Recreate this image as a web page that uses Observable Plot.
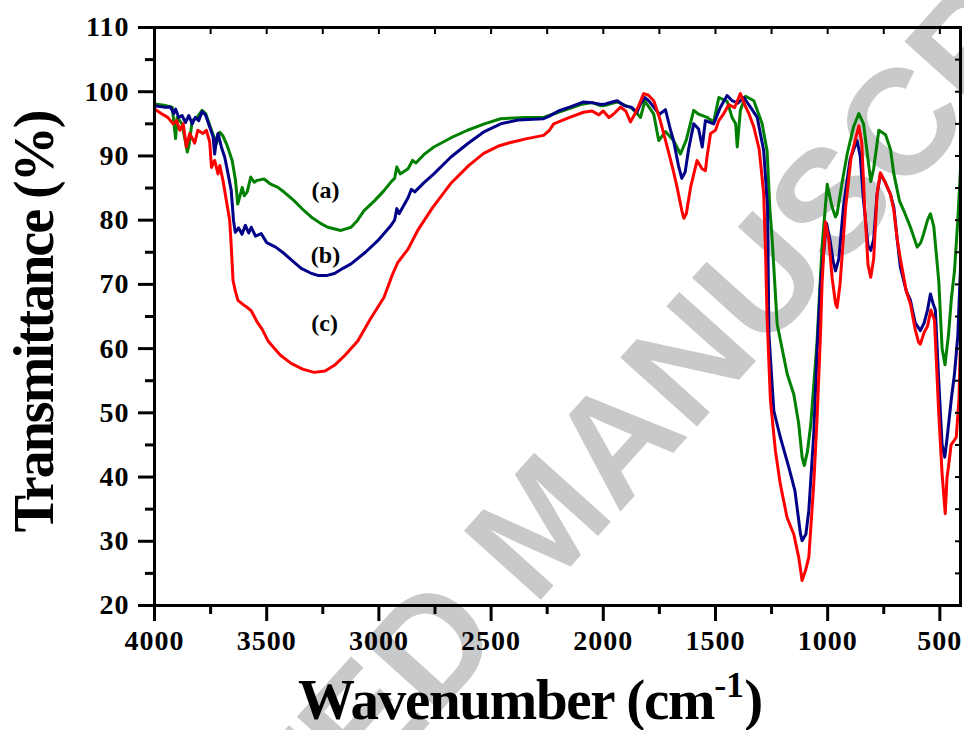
<!DOCTYPE html>
<html>
<head>
<meta charset="utf-8">
<script src="https://cdn.jsdelivr.net/npm/d3@7"></script>
<script src="https://cdn.jsdelivr.net/npm/@observablehq/plot@0.6"></script>
<style>
  body { margin: 0; background: #fff; }
  #wrap { position: relative; width: 964px; height: 730px; overflow: hidden; background: #fff; }
  #wm { position: absolute; left: 540px; top: 523px; transform: translate(-50%, -50%) rotate(-48deg);
        font: bold 150px "Liberation Sans", Arial, sans-serif; color: #c8c9cb; white-space: nowrap; line-height: 1; }
  #plot { position: absolute; left: 0; top: 0; }
  .serif { font-family: "Liberation Serif", "Times New Roman", serif; font-weight: bold; color: #000; }
  #xt { position: absolute; left: 298px; top: 672px; height: 56px; font-size: 57px; line-height: 56px; white-space: nowrap; letter-spacing: -1.3px; }
  #xt .sup { font-size: 36px; line-height: 0; vertical-align: 22px; letter-spacing: 0; }
  #yt { position: absolute; left: 34px; top: 322px; transform: translate(-50%, -50%) rotate(-90deg);
        font-size: 56px; line-height: 56px; white-space: nowrap; letter-spacing: -2px; }
  #plot g[aria-label$="tick label"] text { letter-spacing: 1px; }
</style>
</head>
<body>
<div id="wrap">
  <div id="wm">ACCEPTED MANUSCRIPT</div>
  <div id="plot"></div>
  <div id="yt" class="serif">Transmittance (%)</div>
  <div id="xt" class="serif">Wavenumber (cm<span class="sup">-1</span>)</div>
</div>
<script>
// Tick values
const xMajor = [4000, 3500, 3000, 2500, 2000, 1500, 1000, 500];
const xMinor = [3750, 3250, 2750, 2250, 1750, 1250, 750];
const yMajor = [20, 30, 40, 50, 60, 70, 80, 90, 100, 110];
const yMinor = [25, 35, 45, 55, 65, 75, 85, 95, 105];

// Curve labels
const labelNames = ["(a)", "(b)", "(c)"];
const labelWave = [3238, 3238, 3242];
const labelTrans = [84.6, 74.6, 63.9];

// Series colours
const colorA = "#008000";
const colorB = "#000088";
const colorC = "#ff0000";

// Spectrum (a): [wavenumber, transmittance]
const spectrumA = [
  [4000,98.1],[3958,97.9],[3921,97.6],[3906,92.7],[3899,96.0],[3877,95.0],[3854,90.6],[3846,91.7],
  [3832,95.5],[3810,96.0],[3788,97.1],[3772,96.6],[3746,94.0],[3724,91.9],[3709,93.7],[3696,93.2],
  [3676,91.6],[3654,89.3],[3639,86.2],[3629,82.5],[3609,85.1],[3600,83.8],[3587,84.4],[3571,86.7],
  [3555,85.9],[3542,86.2],[3512,86.4],[3482,85.6],[3450,85.1],[3420,84.3],[3377,83.0],[3340,81.7],
  [3302,80.5],[3260,79.5],[3228,78.9],[3169,78.4],[3124,78.9],[3095,80.0],[3066,81.5],[3020,83.0],
  [2977,84.6],[2945,86.0],[2930,86.5],[2920,88.3],[2905,87.2],[2870,88.0],[2850,89.3],[2835,88.9],
  [2800,90.2],[2755,91.4],[2680,92.8],[2605,94.0],[2530,95.0],[2457,95.8],[2350,96.0],[2266,96.0],
  [2200,96.8],[2100,98.0],[2050,98.3],[2010,97.8],[1990,97.9],[1960,98.2],[1938,98.4],[1905,97.9],
  [1875,97.5],[1850,96.6],[1834,96.0],[1815,98.5],[1800,97.8],[1775,96.5],[1753,92.4],[1723,93.8],
  [1687,92.4],[1656,90.3],[1630,92.5],[1597,97.1],[1575,96.5],[1537,96.0],[1508,95.3],[1485,99.1],
  [1448,98.5],[1426,96.0],[1410,95.0],[1403,91.4],[1389,97.1],[1366,99.3],[1329,98.6],[1292,95.0],
  [1270,90.8],[1258,82.0],[1247,76.8],[1225,63.8],[1180,56.0],[1151,52.9],[1129,48.3],[1114,43.1],
  [1104,41.8],[1090,44.0],[1075,48.3],[1047,61.3],[1025,75.8],[1002,85.6],[980,82.0],[965,80.5],
  [958,81.0],[935,86.0],[913,90.3],[885,94.5],[861,96.6],[840,95.0],[822,90.0],[808,86.0],[795,88.0],
  [772,94.0],[742,93.3],[720,91.0],[705,87.2],[680,83.0],[661,81.5],[631,78.9],[601,75.8],[585,76.5],
  [572,77.9],[555,80.0],[542,81.0],[527,79.0],[505,70.6],[490,60.0],[477,57.5],[462,62.0],[448,68.0],
  [435,72.0],[420,80.0],[408,88.0]
];

// Spectrum (b)
const spectrumB = [
  [4000,97.8],[3958,97.6],[3929,97.6],[3914,96.6],[3906,97.3],[3892,96.0],[3877,96.3],[3862,95.2],
  [3847,96.3],[3832,95.0],[3818,96.0],[3803,95.5],[3788,96.9],[3773,96.4],[3754,94.5],[3739,93.0],
  [3732,90.3],[3724,92.5],[3717,93.5],[3702,91.4],[3687,89.8],[3672,87.2],[3658,84.6],[3648,80.0],
  [3640,78.1],[3625,78.8],[3610,77.8],[3595,79.2],[3580,78.0],[3569,78.9],[3550,77.5],[3524,77.9],
  [3500,76.5],[3460,75.8],[3422,74.8],[3380,73.5],[3346,72.5],[3300,71.7],[3272,71.4],[3230,71.4],
  [3198,71.7],[3160,72.5],[3124,73.2],[3060,75.0],[3005,76.8],[2950,79.0],[2930,80.0],[2920,81.8],
  [2910,81.0],[2870,83.5],[2855,84.8],[2840,84.4],[2800,85.8],[2755,87.2],[2680,89.8],[2605,91.9],
  [2530,93.8],[2457,95.0],[2380,95.6],[2266,95.8],[2240,96.2],[2200,97.0],[2150,97.6],[2088,98.4],
  [2050,98.3],[2010,98.0],[1990,98.1],[1960,98.4],[1938,98.6],[1905,97.8],[1875,97.6],[1850,96.8],
  [1834,98.1],[1815,99.1],[1795,98.5],[1775,97.6],[1750,96.5],[1723,97.2],[1700,94.0],[1687,92.4],
  [1665,88.5],[1650,86.5],[1635,87.5],[1620,91.0],[1597,95.0],[1575,94.2],[1559,91.4],[1545,95.5],
  [1508,95.0],[1478,97.6],[1448,99.4],[1426,98.6],[1400,98.2],[1374,99.1],[1344,97.6],[1314,96.0],
  [1285,90.8],[1268,82.0],[1262,62.3],[1240,50.3],[1211,46.2],[1173,41.5],[1146,37.9],[1121,31.1],
  [1114,30.1],[1097,31.1],[1084,34.8],[1062,46.7],[1047,59.7],[1032,70.1],[1017,75.3],[1005,79.5],
  [990,77.0],[975,73.5],[965,72.1],[950,74.0],[930,82.0],[900,89.5],[869,92.4],[855,90.0],[840,83.0],
  [820,76.0],[808,75.3],[795,77.0],[780,84.0],[765,87.2],[745,86.0],[720,84.0],[705,82.0],[690,77.0],
  [676,72.7],[650,69.0],[631,67.5],[610,64.0],[587,62.8],[570,64.0],[555,66.0],[542,68.5],[530,67.0],
  [520,66.0],[505,55.0],[490,45.0],[478,43.1],[468,46.0],[448,52.4],[435,56.0],[420,62.0],[408,72.7]
];

// Spectrum (c)
const spectrumC = [
  [4000,97.3],[3970,96.6],[3941,96.0],[3917,95.0],[3902,95.5],[3887,94.0],[3872,95.0],[3858,91.4],
  [3843,93.5],[3821,92.0],[3807,94.0],[3784,93.5],[3769,94.0],[3754,92.2],[3746,88.2],[3732,89.3],
  [3717,87.2],[3709,88.5],[3695,86.2],[3680,83.1],[3665,80.0],[3658,76.0],[3650,70.6],[3640,69.0],
  [3628,67.5],[3610,67.0],[3590,66.5],[3569,65.9],[3540,64.0],[3520,63.0],[3494,61.2],[3440,59.0],
  [3391,57.7],[3340,56.8],[3289,56.3],[3240,56.5],[3198,57.4],[3150,59.0],[3094,61.2],[3040,64.5],
  [2977,68.0],[2940,71.5],[2916,73.4],[2870,75.5],[2827,78.4],[2760,82.0],[2680,85.7],[2600,88.5],
  [2533,90.4],[2470,91.5],[2413,92.1],[2340,92.7],[2266,93.2],[2240,94.0],[2221,95.0],[2150,96.0],
  [2088,96.8],[2050,97.0],[2020,96.4],[2000,97.0],[1975,96.0],[1955,96.5],[1923,97.6],[1900,97.0],
  [1879,95.3],[1860,96.5],[1840,98.0],[1820,99.7],[1800,99.5],[1775,98.6],[1750,96.0],[1715,91.4],
  [1690,88.0],[1671,85.1],[1650,81.5],[1641,80.3],[1630,81.0],[1611,85.1],[1582,89.3],[1560,88.0],
  [1545,87.7],[1537,90.0],[1522,93.5],[1500,94.0],[1485,95.5],[1463,96.6],[1440,98.0],[1415,97.5],
  [1389,99.7],[1370,98.0],[1350,96.5],[1329,94.5],[1305,91.0],[1285,84.1],[1277,75.3],[1270,64.9],
  [1255,51.9],[1233,44.1],[1211,38.9],[1181,33.7],[1151,31.1],[1129,27.5],[1114,23.9],[1099,25.4],
  [1084,27.5],[1062,38.9],[1047,49.3],[1032,62.3],[1025,70.1],[1010,79.7],[995,77.0],[980,71.0],
  [965,67.0],[958,66.4],[945,70.0],[920,82.0],[895,90.0],[861,94.7],[848,92.0],[835,82.0],[820,73.0],
  [808,71.1],[795,74.0],[780,84.0],[765,87.4],[745,86.0],[720,84.0],[705,81.5],[690,77.0],[676,74.0],
  [650,69.0],[631,66.9],[610,63.0],[595,61.0],[587,60.7],[570,62.5],[555,63.5],[540,66.0],[524,64.4],
  [505,50.0],[490,40.5],[476,34.3],[468,40.0],[462,41.5],[450,45.0],[440,45.5],[427,46.2],[415,52.0],
  [408,61.0]
];

const fmt = d => String(d);
const lineOpts = {x: d => d[0], y: d => d[1], strokeWidth: 3, strokeLinejoin: "round", strokeLinecap: "round"};

const chart = Plot.plot({
  width: 964,
  height: 730,
  marginLeft: 154,
  marginRight: 4,
  marginTop: 27,
  marginBottom: 125,
  x: {domain: [4000, 408], axis: null},
  y: {domain: [20, 110], axis: null},
  style: {background: "transparent", fontFamily: "Liberation Serif, Times New Roman, serif", fontWeight: "bold", color: "black", overflow: "visible"},
  marks: [
    Plot.line(spectrumA, {...lineOpts, stroke: colorA}),
    Plot.line(spectrumB, {...lineOpts, stroke: colorB}),
    Plot.line(spectrumC, {...lineOpts, stroke: colorC}),
    Plot.text(labelNames, {x: (d, i) => labelWave[i], y: (d, i) => labelTrans[i], text: d => d, fontSize: 24, fontWeight: "bold", fill: "black"}),
    Plot.frame({stroke: "black", strokeWidth: 3}),
    Plot.axisY(yMajor, {anchor: "left", tickSize: 16, tickPadding: 9, strokeWidth: 3, fontSize: 28, fontWeight: "bold", tickFormat: fmt, label: null}),
    Plot.axisY(yMinor, {anchor: "left", tickSize: 9, strokeWidth: 3, tickFormat: () => "", label: null}),
    Plot.axisX(xMajor, {anchor: "bottom", tickSize: 16, tickPadding: 9, strokeWidth: 3, fontSize: 28, fontWeight: "bold", tickFormat: fmt, label: null}),
    Plot.axisX(xMinor, {anchor: "bottom", tickSize: 9, strokeWidth: 3, tickFormat: () => "", label: null}),
    Plot.axisX(xMajor.concat(xMinor), {anchor: "top", tickSize: -6, strokeWidth: 2, tickFormat: () => "", label: null}),
    Plot.axisY(yMajor.concat(yMinor), {anchor: "right", tickSize: -6, strokeWidth: 2, tickFormat: () => "", label: null})
  ]
});
document.getElementById("plot").appendChild(chart);
</script>
</body>
</html>
